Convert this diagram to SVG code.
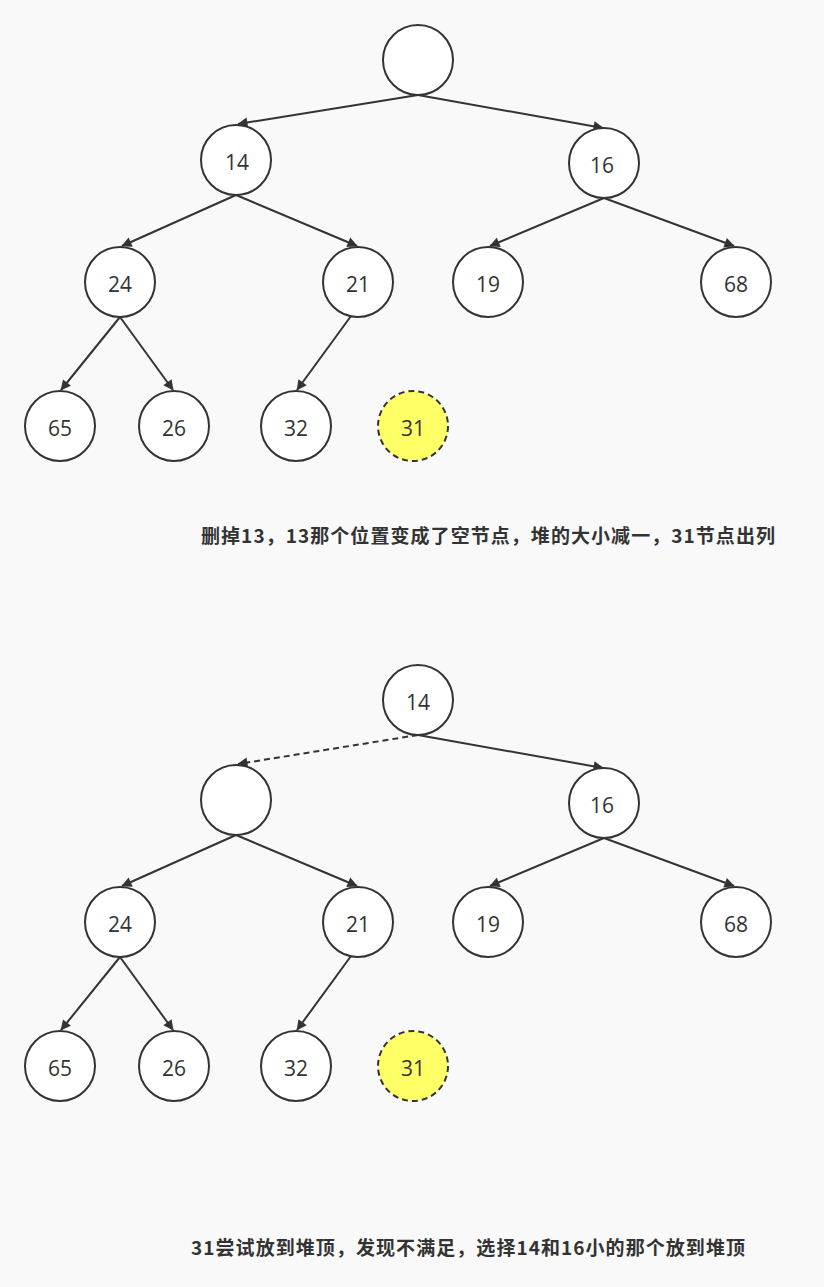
<svg xmlns="http://www.w3.org/2000/svg" width="824" height="1287" viewBox="0 0 824 1287">
<defs>
<style>
.n{fill:#fff;stroke:#333;stroke-width:2}
.h{fill:#ffff66;stroke:#333;stroke-width:2;stroke-dasharray:6 4}
.t{font-family:"Open Sans","Noto Sans",sans-serif;font-size:21px;fill:#333;text-anchor:middle;dominant-baseline:central}
.e{stroke:#333;stroke-width:2;fill:none;marker-end:url(#a)}
.d{stroke-dasharray:6 4}
.c{font-family:"Noto Sans CJK SC","Noto Sans",sans-serif;font-size:19px;font-weight:bold;fill:#333}
</style>
<marker id="a" viewBox="0 0 10 10" refX="9" refY="5" markerWidth="6" markerHeight="6" markerUnits="userSpaceOnUse" orient="auto" style="overflow:visible">
<path d="M0,0 L10,5 L0,10 Z" fill="#333" transform="scale(1.7) translate(-4,-2.1)"/>
</marker>
</defs>
<rect width="824" height="1287" fill="#f9f9f9"/>
<g id="connectors">
<line class="e" x1="418" y1="95" x2="238" y2="124"/>
<line class="e" x1="418" y1="95" x2="603" y2="128"/>
<line class="e" x1="236" y1="195" x2="122" y2="246"/>
<line class="e" x1="236" y1="195" x2="357" y2="246"/>
<line class="e" x1="604" y1="198" x2="490" y2="246"/>
<line class="e" x1="604" y1="198" x2="734" y2="246"/>
<line class="e" x1="120" y1="317" x2="61" y2="390"/>
<line class="e" x1="120" y1="317" x2="173" y2="390"/>
<line class="e" x1="351" y1="316" x2="297" y2="390"/>
<line class="e d" x1="418" y1="735" x2="238" y2="764"/>
<line class="e" x1="418" y1="735" x2="603" y2="768"/>
<line class="e" x1="236" y1="835" x2="122" y2="886"/>
<line class="e" x1="236" y1="835" x2="357" y2="886"/>
<line class="e" x1="604" y1="838" x2="490" y2="886"/>
<line class="e" x1="604" y1="838" x2="734" y2="886"/>
<line class="e" x1="120" y1="957" x2="61" y2="1030"/>
<line class="e" x1="120" y1="957" x2="173" y2="1030"/>
<line class="e" x1="351" y1="956" x2="297" y2="1030"/>
</g>
<g id="top-root"><circle class="n" cx="418" cy="60" r="35"/></g>
<g id="top-14"><circle class="n" cx="236" cy="160" r="35"/><text class="t" x="237" y="162">14</text></g>
<g id="top-16"><circle class="n" cx="604" cy="163" r="35"/><text class="t" x="602" y="165">16</text></g>
<g id="top-24"><circle class="n" cx="120" cy="282" r="35"/><text class="t" x="120" y="284">24</text></g>
<g id="top-21"><circle class="n" cx="358" cy="282" r="35"/><text class="t" x="358" y="284">21</text></g>
<g id="top-19"><circle class="n" cx="488" cy="282" r="35"/><text class="t" x="488" y="284">19</text></g>
<g id="top-68"><circle class="n" cx="736" cy="282" r="35"/><text class="t" x="736" y="284">68</text></g>
<g id="top-65"><circle class="n" cx="60" cy="426" r="35"/><text class="t" x="60" y="428">65</text></g>
<g id="top-26"><circle class="n" cx="174" cy="426" r="35"/><text class="t" x="174" y="428">26</text></g>
<g id="top-32"><circle class="n" cx="296" cy="426" r="35"/><text class="t" x="296" y="428">32</text></g>
<g id="top-31"><circle class="h" cx="413" cy="426" r="35"/><text class="t" x="413" y="428">31</text></g>
<g id="label-1"><text class="c" x="201" y="543" textLength="574" lengthAdjust="spacing">删掉13，13那个位置变成了空节点，堆的大小减一，31节点出列</text></g>

<g id="bot-14"><circle class="n" cx="418" cy="700" r="35"/><text class="t" x="418" y="702">14</text></g>
<g id="bot-empty"><circle class="n" cx="236" cy="800" r="35"/></g>
<g id="bot-16"><circle class="n" cx="604" cy="803" r="35"/><text class="t" x="602" y="805">16</text></g>
<g id="bot-24"><circle class="n" cx="120" cy="922" r="35"/><text class="t" x="120" y="924">24</text></g>
<g id="bot-21"><circle class="n" cx="358" cy="922" r="35"/><text class="t" x="358" y="924">21</text></g>
<g id="bot-19"><circle class="n" cx="488" cy="922" r="35"/><text class="t" x="488" y="924">19</text></g>
<g id="bot-68"><circle class="n" cx="736" cy="922" r="35"/><text class="t" x="736" y="924">68</text></g>
<g id="bot-65"><circle class="n" cx="60" cy="1066" r="35"/><text class="t" x="60" y="1068">65</text></g>
<g id="bot-26"><circle class="n" cx="174" cy="1066" r="35"/><text class="t" x="174" y="1068">26</text></g>
<g id="bot-32"><circle class="n" cx="296" cy="1066" r="35"/><text class="t" x="296" y="1068">32</text></g>
<g id="bot-31"><circle class="h" cx="413" cy="1066" r="35"/><text class="t" x="413" y="1068">31</text></g>
<g id="label-2"><text class="c" x="191" y="1255" textLength="554" lengthAdjust="spacing">31尝试放到堆顶，发现不满足，选择14和16小的那个放到堆顶</text></g>
</svg>
